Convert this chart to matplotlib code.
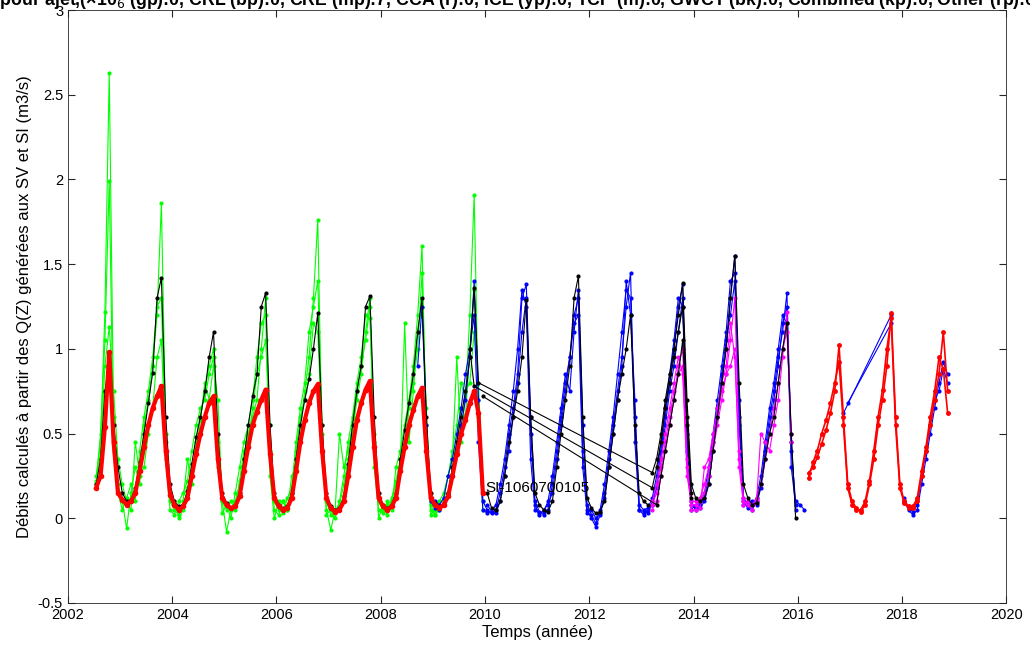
import numpy as np
import matplotlib
matplotlib.use("Agg")
import matplotlib.pyplot as plt

plt.rcParams['font.family'] = ['Liberation Sans', 'DejaVu Sans']

# --- data: monthly values, each piece = (start year, start month, values)
red_early = [(2002, 7, [0.18, 0.25, 0.54, 0.98, 0.45, 0.15,
                        0.11, 0.08, 0.10, 0.15, 0.28, 0.42, 0.55, 0.65, 0.72, 0.78, 0.40, 0.14,
                        0.08, 0.05, 0.07, 0.12, 0.25, 0.38, 0.50, 0.60, 0.68, 0.72, 0.35, 0.12,
                        0.08, 0.06, 0.07, 0.13, 0.28, 0.42, 0.55, 0.63, 0.70, 0.76, 0.38, 0.12,
                        0.07, 0.05, 0.06, 0.12, 0.28, 0.45, 0.58, 0.68, 0.75, 0.79, 0.40, 0.12,
                        0.06, 0.04, 0.05, 0.10, 0.25, 0.42, 0.58, 0.68, 0.76, 0.81, 0.42, 0.12,
                        0.07, 0.05, 0.07, 0.12, 0.28, 0.42, 0.55, 0.64, 0.72, 0.77, 0.40, 0.12,
                        0.08, 0.06, 0.08, 0.13, 0.25, 0.38, 0.50, 0.58, 0.68, 0.75, 0.62, 0.15])]
red_late_1 = [(2016, 3, [0.27, 0.30, 0.36, 0.44, 0.52, 0.62, 0.75, 1.02, 0.60, 0.20,
                         0.10, 0.06, 0.04, 0.08, 0.20, 0.35, 0.55, 0.70, 0.90, 1.21, 0.60, 0.20,
                         0.10, 0.07, 0.06, 0.10, 0.25, 0.40, 0.55, 0.70, 0.85, 1.10, 0.75])]
red_late_2 = [(2016, 3, [0.24, 0.33, 0.40, 0.50, 0.58, 0.68, 0.80, 0.92, 0.55, 0.18,
                         0.08, 0.05, 0.05, 0.10, 0.22, 0.40, 0.60, 0.76, 1.00, 1.18, 0.55, 0.18,
                         0.09, 0.06, 0.07, 0.12, 0.28, 0.42, 0.60, 0.75, 0.95, 0.88, 0.62])]

black_a = [(2002, 7, [0.20, 0.35, 0.75, 0.92, 0.55, 0.30,
                      0.15, 0.10, 0.11, 0.18, 0.33, 0.50, 0.68, 0.86, 1.30, 1.42, 0.60, 0.20,
                      0.10, 0.07, 0.08, 0.16, 0.32, 0.48, 0.60, 0.75, 0.95, 1.10, 0.50, 0.15,
                      0.09, 0.06, 0.07, 0.15, 0.35, 0.55, 0.72, 0.85, 1.25, 1.33, 0.55, 0.15,
                      0.08, 0.06, 0.07, 0.15, 0.35, 0.55, 0.70, 0.82, 1.00, 1.21, 0.55, 0.15,
                      0.07, 0.05, 0.06, 0.13, 0.32, 0.55, 0.75, 0.90, 1.25, 1.31, 0.60, 0.15,
                      0.08, 0.06, 0.08, 0.15, 0.35, 0.52, 0.68, 0.85, 1.10, 1.30, 0.60, 0.15,
                      0.09, 0.07, 0.09, 0.15, 0.30, 0.45, 0.60, 0.75, 0.95, 1.36, 0.80]),
           (2013, 3, [0.27, 0.35, 0.50, 0.70, 0.85, 1.00, 1.20, 1.39, 0.70, 0.20,
                      0.12, 0.10, 0.12, 0.20, 0.40, 0.60, 0.80, 1.00, 1.30, 1.55, 0.80, 0.20,
                      0.12, 0.08, 0.09, 0.20, 0.35, 0.50, 0.60, 0.80, 1.00, 1.15, 0.50, 0.00])]
black_b = [(2009, 9, [1.00, 0.78]),
           (2013, 3, [0.18, 0.30, 0.45, 0.65, 0.80, 0.95, 1.10, 1.25, 0.60, 0.15])]
black_c = [(2009, 12, [0.72]),
           (2013, 4, [0.08, 0.25, 0.40, 0.55, 0.70, 0.85, 1.05, 0.55, 0.12])]
black_d = [(2010, 1, [0.15, 0.06, 0.05, 0.10, 0.25, 0.45, 0.60, 0.75, 0.95, 1.29, 0.60, 0.15,
                      0.08, 0.05, 0.04, 0.10, 0.30, 0.50, 0.70, 0.90, 1.30, 1.43, 0.60, 0.12,
                      0.06, 0.03, 0.04, 0.10, 0.30, 0.50, 0.70, 0.85, 1.00, 1.20, 0.55, 0.15,
                      0.10, 0.08])]

green_1 = [(2002, 7, [0.25, 0.45, 1.22, 2.63, 0.60, 0.20,
                      0.10, -0.06, 0.15, 0.30, 0.20, 0.55, 0.70, 0.90, 1.20, 1.86, 0.50, 0.10,
                      0.05, 0.02, 0.10, 0.35, 0.20, 0.45, 0.60, 0.75, 0.90, 1.00, 0.30, 0.10,
                      -0.08, 0.05, 0.10, 0.20, 0.35, 0.50, 0.60, 0.70, 1.00, 1.30, 0.40, 0.05,
                      0.02, 0.10, 0.05, 0.25, 0.30, 0.55, 0.75, 0.95, 1.30, 1.76, 0.40, 0.05,
                      -0.07, 0.05, 0.08, 0.20, 0.35, 0.50, 0.70, 0.85, 1.10, 1.30, 0.30, 0.05,
                      0.03, 0.10, 0.05, 0.30, 0.40, 0.55, 0.70, 0.90, 1.20, 1.61, 0.45, 0.02,
                      0.05, 0.10, 0.15, 0.25, 0.40, 0.55, 0.80, 0.70, 1.20, 1.91, 0.60, 0.10])]
green_2 = [(2002, 7, [0.22, 0.50, 1.05, 1.99, 0.40, 0.15,
                      0.05, 0.12, 0.20, 0.10, 0.40, 0.60, 0.75, 0.95, 1.25, 1.30, 0.35, 0.05,
                      0.02, 0.10, 0.15, 0.22, 0.40, 0.55, 0.65, 0.70, 0.85, 0.95, 0.45, 0.03,
                      0.08, 0.00, 0.15, 0.30, 0.45, 0.55, 0.70, 0.95, 1.15, 1.20, 0.25, 0.00,
                      0.10, 0.03, 0.12, 0.18, 0.45, 0.65, 0.80, 1.10, 1.25, 1.40, 0.55, 0.02,
                      0.05, 0.00, 0.10, 0.25, 0.45, 0.60, 0.80, 0.95, 1.20, 1.18, 0.50, 0.00,
                      0.08, 0.02, 0.12, 0.22, 0.35, 0.45, 0.65, 0.80, 1.00, 1.45, 0.55, 0.08,
                      0.02, 0.05, 0.10, 0.15, 0.30, 0.45, 0.65, 0.60, 1.00, 1.35, 0.70, 0.05])]
green_3 = [(2002, 7, [0.20, 0.40, 0.90, 1.13, 0.75, 0.35,
                      0.20, 0.10, 0.05, 0.45, 0.25, 0.30, 0.50, 0.65, 0.95, 1.05, 0.45, 0.15,
                      0.10, 0.00, 0.05, 0.18, 0.30, 0.38, 0.58, 0.80, 0.70, 0.90, 0.70, 0.10,
                      0.05, 0.10, 0.05, 0.22, 0.40, 0.45, 0.65, 0.85, 0.95, 1.05, 0.55, 0.10,
                      0.05, 0.10, 0.05, 0.15, 0.40, 0.60, 0.70, 0.85, 1.15, 1.10, 0.50, 0.10,
                      0.02, 0.05, 0.50, 0.30, 0.40, 0.55, 0.75, 0.90, 1.05, 1.25, 0.45, 0.10,
                      0.05, 0.08, 0.10, 0.20, 0.30, 1.15, 0.45, 0.75, 1.10, 1.25, 0.65, 0.05,
                      0.02, 0.08, 0.12, 0.25, 0.35, 0.95, 0.45, 0.75, 0.80, 1.10, 0.80, 0.15])]

blue_1 = [(2008, 9, [0.90, 1.25, 0.55, 0.10,
                     0.06, 0.05, 0.08, 0.15, 0.25, 0.40, 0.55, 0.70, 0.95, 1.40, 0.70, 0.10,
                     0.05, 0.03, 0.05, 0.15, 0.30, 0.50, 0.65, 0.85, 1.30, 1.38, 0.60, 0.10,
                     0.04, 0.02, 0.05, 0.20, 0.40, 0.60, 0.80, 0.95, 1.20, 1.30, 0.40, 0.05,
                     0.00, -0.05, 0.02, 0.15, 0.35, 0.55, 0.75, 0.95, 1.25, 1.45, 0.45, 0.05,
                     0.04, 0.03, 0.10, 0.20, 0.40, 0.60, 0.80, 1.00, 1.25, 1.38, 0.45, 0.08,
                     0.06, 0.08, 0.12, 0.25, 0.45, 0.65, 0.80, 1.00, 1.30, 1.55, 0.60, 0.12,
                     0.08, 0.05, 0.10, 0.20, 0.40, 0.60, 0.75, 0.95, 1.10, 1.33, 0.40, 0.10,
                     0.08, 0.05])]
blue_2 = [(2009, 1, [0.10, 0.08, 0.12, 0.25, 0.35, 0.50, 0.65, 0.85, 1.00, 1.20, 0.45, 0.05,
                     0.03, 0.04, 0.08, 0.20, 0.35, 0.55, 0.75, 1.00, 1.35, 1.25, 0.35, 0.05,
                     0.03, 0.04, 0.10, 0.25, 0.45, 0.65, 0.85, 0.75, 1.10, 1.35, 0.55, 0.08,
                     0.02, -0.03, 0.05, 0.20, 0.40, 0.60, 0.85, 1.10, 1.35, 1.30, 0.60, 0.08,
                     0.05, 0.06, 0.12, 0.25, 0.45, 0.65, 0.85, 1.05, 1.30, 1.25, 0.40, 0.10,
                     0.05, 0.10, 0.15, 0.30, 0.50, 0.70, 0.90, 1.10, 1.40, 1.45, 0.55, 0.08,
                     0.10, 0.08, 0.12, 0.25, 0.45, 0.65, 0.80, 1.00, 1.20, 1.15, 0.45, 0.05])]
blue_3 = [(2010, 1, [0.08, 0.04, 0.03, 0.10, 0.25, 0.40, 0.60, 0.80, 1.10, 1.30, 0.50, 0.08,
                     0.02, 0.05, 0.08, 0.15, 0.35, 0.55, 0.75, 0.95, 1.15, 1.20, 0.30, 0.03,
                     0.05, 0.00, 0.03, 0.12, 0.30, 0.50, 0.70, 0.90, 1.40, 1.20, 0.70, 0.05,
                     0.02, 0.05, 0.08, 0.18, 0.35, 0.55, 0.75, 0.90, 1.10, 1.30, 0.50, 0.05,
                     0.08, 0.06, 0.10, 0.20, 0.40, 0.60, 0.85, 1.05, 1.20, 1.40, 0.70, 0.10,
                     0.06, 0.10, 0.08, 0.18, 0.35, 0.55, 0.70, 0.90, 1.15, 1.25, 0.30, 0.08])]
blue_4 = [(2016, 11, [0.62]), (2017, 10, [1.20])]
blue_5 = [(2016, 12, [0.68]), (2017, 10, [1.15])]
blue_6 = [(2018, 1, [0.10, 0.05, 0.02, 0.05, 0.20, 0.35, 0.50, 0.65, 0.80, 0.92, 0.85])]
blue_7 = [(2018, 1, [0.12, 0.06, 0.04, 0.08, 0.25, 0.40, 0.55, 0.70, 0.75, 0.88, 0.80])]

magenta_1 = [(2013, 3, [0.05, 0.10, 0.25, 0.40, 0.55, 0.70, 0.90, 1.00, 0.35, 0.08,
                        0.08, 0.10, 0.15, 0.25, 0.40, 0.55, 0.70, 0.85, 1.05, 1.30, 0.40, 0.10,
                        0.08, 0.05, 0.10, 0.50, 0.45, 0.40, 0.55, 0.70, 0.95, 1.22, 0.45])]
magenta_2 = [(2013, 3, [0.08, 0.15, 0.30, 0.45, 0.60, 0.75, 0.85, 0.90, 0.30, 0.05,
                        0.05, 0.12, 0.20, 0.30, 0.45, 0.60, 0.75, 0.85, 0.90, 1.00, 0.30, 0.08,
                        0.10, 0.08, 0.12, 0.20, 0.35, 0.50, 0.65, 0.80, 1.00, 1.10, 0.50])]
magenta_3 = [(2013, 3, [0.10, 0.20, 0.35, 0.50, 0.65, 0.80, 0.95, 0.85, 0.25, 0.10,
                        0.10, 0.06, 0.30, 0.35, 0.50, 0.65, 0.80, 0.90, 1.15, 0.95, 0.35, 0.12])]

station_label = "SI-1060700105"
title = ("Nombre de jours pour ajet,(×10$_6$ (gp):0, CRL (bp):0, CRE (mp):7, CCA (r):0, "
         "ICE (yp):0, TCP (m):0, GWCT (bk):0, Combined (kp):0, Other (rp):0, Total:7")


def to_xy(pieces):
    t, v = [], []
    for year, month, vals in pieces:
        t.extend(year + (month - 0.5 + np.arange(len(vals))) / 12.0)
        v.extend(vals)
    return np.array(t), np.array(v)


fig = plt.figure(figsize=(10.30, 6.53), dpi=100)
ax = fig.add_axes([0.066, 0.0766, 0.911, 0.908])

thin = dict(lw=0.8, marker='.', ms=4)
for s in [green_1, green_2, green_3]:
    ax.plot(*to_xy(s), color=(0, 1, 0), **thin)
for s in [blue_1, blue_2, blue_3, blue_4, blue_5, blue_6, blue_7]:
    ax.plot(*to_xy(s), color=(0, 0, 1), **thin)
for s in [magenta_1, magenta_2, magenta_3]:
    ax.plot(*to_xy(s), color=(1, 0, 1), **thin)
for s in [black_a, black_b, black_c, black_d]:
    ax.plot(*to_xy(s), color='k', **thin)
ax.plot(*to_xy(red_early), color=(1, 0, 0), lw=3, marker='o', ms=3)
for s in [red_late_1, red_late_2]:
    ax.plot(*to_xy(s), color=(1, 0, 0), lw=1.2, marker='.', ms=5)

ax.text(2010.0, 0.18, station_label, fontsize=11, ha='left', va='center')

ax.set_xlim(2002, 2020)
ax.set_ylim(-0.5, 3)
ax.set_xticks(np.arange(2002, 2021, 2))
ax.set_yticks(np.arange(-0.5, 3.01, 0.5))
ax.set_yticklabels(['-0.5', '0', '0.5', '1', '1.5', '2', '2.5', '3'])
ax.tick_params(direction='in', labelsize=10.5, length=5, top=True, right=True,
               labeltop=False, labelright=False, color='#262626')
for sp in ax.spines.values():
    sp.set_color('#262626')
    sp.set_linewidth(0.6)
ax.set_xlabel('Temps (année)', fontsize=12, labelpad=2)
ax.set_ylabel('Débits calculés à partir des Q(Z) générées aux SV et SI (m3/s)', fontsize=12, labelpad=4)

fig.text(0.465, 1.0 - 5 / 653, title, ha='center', va='baseline', fontsize=12.8, fontweight='bold')

fig.savefig('out.png', dpi=100)
